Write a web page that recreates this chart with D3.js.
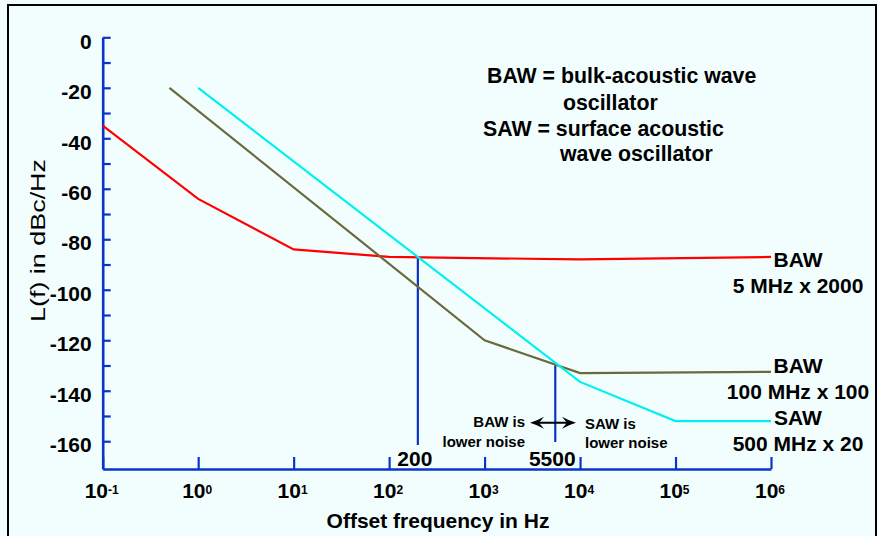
<!DOCTYPE html>
<html>
<head>
<meta charset="utf-8">
<script src="https://cdn.jsdelivr.net/npm/d3@7/dist/d3.min.js"></script>
<style>
  html, body { margin: 0; padding: 0; background: #f2fefe; }
  svg { display: block; }
  text { font-family: "Liberation Sans", Arial, sans-serif; }
</style>
</head>
<body>
<svg id="chart" width="878" height="536"></svg>
<script>
// ---- data ----
const xTicks = [1e-1, 1e0, 1e1, 1e2, 1e3, 1e4, 1e5, 1e6];
const xTickExp = ["-1", "0", "1", "2", "3", "4", "5", "6"];
const yTicks = [0, -10, -20, -30, -40, -50, -60, -70, -80, -90, -100, -110, -120, -130, -140, -150, -160];

const bawRedF = [0.1, 1, 10, 100, 1e4, 1e6];
const bawRedL = [-35, -64, -84, -87, -88, -87];

const bawOliveF = [0.5, 1e3, 1e4, 1e6];
const bawOliveL = [-20, -120, -133, -132.5];

const sawF = [1, 1e4, 1e5, 1e6];
const sawL = [-20, -136.5, -152, -152];

const crossF = [200, 5500];
const crossLabels = ["200", "5500"];
const crossTop = [-87.5, -130];
const crossBottom = [-161.5, -160.3];

// ---- setup ----
const svg = d3.select("#chart");
const W = 878, H = 536;
svg.append("rect").attr("x", 0).attr("y", 0).attr("width", W).attr("height", H).attr("fill", "#f2fefe");
svg.append("rect").attr("x", 8).attr("y", 5).attr("width", 868).attr("height", 560)
  .attr("fill", "none").attr("stroke", "#000").attr("stroke-width", 2);

const x = d3.scaleLog().domain([0.1, 1e6]).range([102.7, 771]);
const y = d3.scaleLinear().domain([-171, 0]).range([469, 37.3]);

const axisColor = "#0a34c8";

// y axis
const gy = svg.append("g").attr("transform", `translate(${x(0.1)},0)`)
  .call(d3.axisLeft(y).tickValues(yTicks).tickSizeInner(-8).tickSizeOuter(0)
    .tickFormat(d => (d % 20 === 0 ? d3.format("d")(d).replace("−", "-") : "")));
gy.select(".domain").attr("stroke", axisColor).attr("stroke-width", 2.6);
gy.selectAll(".tick line").attr("stroke", axisColor).attr("stroke-width", 2.2);
gy.selectAll(".tick text").attr("x", -11).attr("dy", "0.32em").attr("y", 4)
  .attr("fill", "#000").style("font-size", "21px").style("font-weight", "bold")
  .style("font-family", "'Liberation Sans', Arial, sans-serif");

// x axis
const gx = svg.append("g").attr("transform", `translate(0,${y(-171)})`)
  .call(d3.axisBottom(x).tickValues(xTicks).tickSizeInner(-12).tickSizeOuter(0).tickFormat(""));
gx.select(".domain").attr("stroke", axisColor).attr("stroke-width", 2.6);
gx.selectAll(".tick line").attr("stroke", axisColor).attr("stroke-width", 2.2);

const xl = svg.append("g").selectAll("text").data(xTicks).join("text")
  .attr("x", d => x(d) - 1).attr("y", 498)
  .attr("text-anchor", "middle").style("font-size", "21px").style("font-weight", "bold");
xl.append("tspan").text("10");
xl.append("tspan").attr("dy", -4).style("font-size", "12px").text((d, i) => xTickExp[i]);

// axis titles
svg.append("text").attr("x", 438).attr("y", 528).attr("text-anchor", "middle")
  .style("font-size", "21px").style("font-weight", "bold").text("Offset frequency in Hz");
svg.append("text").attr("transform", "translate(45,322) rotate(-90)").attr("text-anchor", "start")
  .attr("textLength", 163).attr("lengthAdjust", "spacingAndGlyphs")
  .style("font-size", "21px").text("L(f) in dBc/Hz");

// crossover vertical lines
svg.append("g").selectAll("line").data(crossF).join("line")
  .attr("x1", d => x(d)).attr("x2", d => x(d))
  .attr("y1", (d, i) => y(crossTop[i])).attr("y2", (d, i) => y(crossBottom[i]))
  .attr("stroke", axisColor).attr("stroke-width", 2.2);
svg.append("g").selectAll("text").data(crossF).join("text")
  .attr("x", d => x(d) - 3).attr("y", 466)
  .attr("text-anchor", "middle").style("font-size", "21px").style("font-weight", "bold")
  .text((d, i) => crossLabels[i]);

// series lines
const line = d3.line().x(d => x(d[0])).y(d => y(d[1]));
const series = [
  { f: bawRedF, l: bawRedL, color: "#ff0000" },
  { f: bawOliveF, l: bawOliveL, color: "#6b6a3c" },
  { f: sawF, l: sawL, color: "#00f0f0" }
];
svg.append("g").selectAll("path").data(series).join("path")
  .attr("d", s => line(s.f.map((f, i) => [f, s.l[i]])))
  .attr("fill", "none").attr("stroke", s => s.color).attr("stroke-width", 2.2);

// series labels
const labels = [
  { lines: ["BAW", "5 MHz x 2000"], y0: 267 },
  { lines: ["BAW", "100 MHz x 100"], y0: 373 },
  { lines: ["SAW", "500 MHz x 20"], y0: 425 }
];
const lg = svg.append("g");
labels.forEach(lb => {
  lb.lines.forEach((t, i) => {
    lg.append("text").attr("x", 798).attr("y", lb.y0 + i * 26).attr("text-anchor", "middle")
      .style("font-size", "21px").style("font-weight", "bold").text(t);
  });
});

// definitions annotation
const defs = [
  { t: "BAW = bulk-acoustic wave", x: 487, y: 83 },
  { t: "oscillator", x: 563, y: 110 },
  { t: "SAW = surface acoustic", x: 483, y: 136 },
  { t: "wave oscillator", x: 560, y: 161 }
];
svg.append("g").selectAll("text").data(defs).join("text")
  .attr("x", d => d.x).attr("y", d => d.y)
  .style("font-size", "21.3px").style("font-weight", "bold").text(d => d.t);

// lower-noise notes
const notes = [
  { t: "BAW is", x: 525, y: 427, a: "end" },
  { t: "lower noise", x: 525, y: 447, a: "end" },
  { t: "SAW is", x: 585, y: 429, a: "start" },
  { t: "lower noise", x: 585, y: 448, a: "start" }
];
svg.append("g").selectAll("text").data(notes).join("text")
  .attr("x", d => d.x).attr("y", d => d.y).attr("text-anchor", d => d.a)
  .style("font-size", "15px").style("font-weight", "bold").text(d => d.t);

// double arrow
const ay = 422.7, ax1 = 530, ax2 = 576;
svg.append("line").attr("x1", ax1 + 6).attr("x2", ax2 - 6).attr("y1", ay).attr("y2", ay)
  .attr("stroke", "#000").attr("stroke-width", 2);
svg.append("path")
  .attr("d", `M${ax1},${ay} Q${ax1 + 7},${ay - 2} ${ax1 + 14},${ay - 6} L${ax1 + 9},${ay} L${ax1 + 14},${ay + 6} Q${ax1 + 7},${ay + 2} ${ax1},${ay} Z`)
  .attr("fill", "#000");
svg.append("path")
  .attr("d", `M${ax2},${ay} Q${ax2 - 7},${ay - 2} ${ax2 - 14},${ay - 6} L${ax2 - 9},${ay} L${ax2 - 14},${ay + 6} Q${ax2 - 7},${ay + 2} ${ax2},${ay} Z`)
  .attr("fill", "#000");
</script>
</body>
</html>
